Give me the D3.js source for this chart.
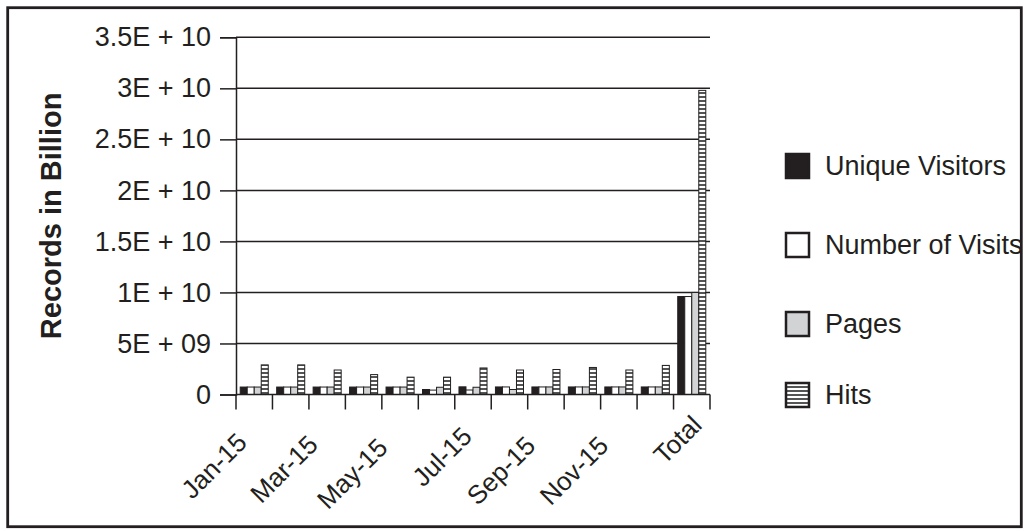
<!DOCTYPE html>
<html>
<head>
<meta charset="utf-8">
<script src="https://cdn.jsdelivr.net/npm/d3@7/dist/d3.min.js"></script>
<style>
  html, body { margin: 0; padding: 0; background: #fff; }
  svg { display: block; font-family: "Liberation Sans", Arial, sans-serif; }
</style>
</head>
<body>
<svg id="chart" width="1029" height="531"></svg>
<script>
// Monthly web-traffic records for 2015, plus the yearly total
const categories = ["Jan-15", "Feb-15", "Mar-15", "Apr-15", "May-15", "Jun-15",
                    "Jul-15", "Aug-15", "Sep-15", "Oct-15", "Nov-15", "Dec-15", "Total"];
const seriesNames = ["Unique Visitors", "Number of Visits", "Pages", "Hits"];
const uniqueVisitors = [7.3e8, 7.3e8, 7.3e8, 7.3e8, 7.3e8, 4.9e8, 7.5e8, 7.4e8, 7.4e8, 7.4e8, 7.4e8, 7.4e8, 9.6e9];
const numberOfVisits = [7.3e8, 7.3e8, 7.3e8, 7.3e8, 7.3e8, 4.3e8, 4.4e8, 7.4e8, 7.4e8, 7.4e8, 7.4e8, 7.4e8, 9.6e9];
const pages          = [7.3e8, 7.3e8, 7.3e8, 7.3e8, 7.3e8, 7.1e8, 7.1e8, 4.9e8, 7.4e8, 7.4e8, 7.4e8, 7.4e8, 1.0e10];
const hits           = [2.9e9, 2.9e9, 2.4e9, 1.95e9, 1.7e9, 1.7e9, 2.6e9, 2.4e9, 2.45e9, 2.65e9, 2.4e9, 2.85e9, 2.98e10];
const yTickValues = [0, 5e9, 1e10, 1.5e10, 2e10, 2.5e10, 3e10, 3.5e10];
const yTickLabels = ["0", "5E + 09", "1E + 10", "1.5E + 10", "2E + 10", "2.5E + 10", "3E + 10", "3.5E + 10"];
const yTitle = "Records in Billion";

const seriesValues = [uniqueVisitors, numberOfVisits, pages, hits];
const rows = categories.map((c, i) => ({
  category: c,
  values: seriesNames.map((s, k) => ({ series: s, value: seriesValues[k][i] }))
}));

const svg = d3.select("#chart");
const ink = "#231f20";

// Horizontal hatch fill for the Hits series
const defs = svg.append("defs");
const pat = defs.append("pattern")
  .attr("id", "hatch").attr("patternUnits", "userSpaceOnUse")
  .attr("width", 8).attr("height", 4);
pat.append("rect").attr("width", 8).attr("height", 4).attr("fill", "#fff");
pat.append("rect").attr("y", 0).attr("width", 8).attr("height", 2).attr("fill", "#555");

const fills = {
  "Unique Visitors": ink,
  "Number of Visits": "#ffffff",
  "Pages": "#d1d3d4",
  "Hits": "url(#hatch)"
};

const plot = { left: 236, right: 710, top: 37.3, bottom: 394.5 };

const x0 = d3.scaleBand().domain(categories).range([plot.left, plot.right]).padding(0);
const x1 = d3.scaleBand().domain(seriesNames).range([0, x0.bandwidth()])
  .paddingInner(0).paddingOuter(0.6);
const y = d3.scaleLinear().domain([0, 3.5e10]).range([plot.bottom, plot.top]);

// outer frame
svg.append("rect")
  .attr("x", 7.7).attr("y", 7.7).attr("width", 1013.6).attr("height", 519)
  .attr("fill", "none").attr("stroke", ink).attr("stroke-width", 2.8);

// gridlines
svg.append("g").selectAll("line")
  .data(yTickValues.filter(v => v > 0))
  .join("line")
  .attr("x1", plot.left).attr("x2", plot.right)
  .attr("y1", d => y(d)).attr("y2", d => y(d))
  .attr("stroke", ink).attr("stroke-width", 1.5);

// y axis
const yAxis = d3.axisLeft(y)
  .tickValues(yTickValues)
  .tickFormat((d, i) => yTickLabels[i])
  .tickSize(16).tickPadding(9);
const gy = svg.append("g").attr("transform", `translate(${plot.left},0)`).call(yAxis);
gy.select(".domain").attr("stroke", ink).attr("stroke-width", 1.5);
gy.selectAll(".tick line").attr("stroke", ink).attr("stroke-width", 1.5);
gy.selectAll(".tick text").attr("fill", ink).style("font-size", "27px")
  .style("font-family", "'Liberation Sans', Arial, sans-serif");

// bars
const groups = svg.append("g").selectAll("g")
  .data(rows).join("g")
  .attr("transform", d => `translate(${x0(d.category)},0)`);
groups.selectAll("rect")
  .data(d => d.values).join("rect")
  .attr("x", d => x1(d.series))
  .attr("y", d => y(d.value))
  .attr("width", x1.bandwidth())
  .attr("height", d => y(0) - y(d.value))
  .attr("fill", d => fills[d.series])
  .attr("stroke", ink).attr("stroke-width", 1);

// x axis with ticks at category boundaries
const boundaries = categories.map(c => x0(c)).concat([plot.right]);
const gx = svg.append("g");
gx.append("line")
  .attr("x1", plot.left).attr("x2", plot.right)
  .attr("y1", y(0)).attr("y2", y(0))
  .attr("stroke", ink).attr("stroke-width", 1.5);
gx.selectAll("line.tick").data(boundaries).join("line")
  .attr("class", "tick")
  .attr("x1", d => d).attr("x2", d => d)
  .attr("y1", y(0)).attr("y2", y(0) + 15)
  .attr("stroke", ink).attr("stroke-width", 1.5);

// rotated category labels (every other month + Total); longer labels sit
// further down-left along their own slant
const labelRef = 58;
const slant = Math.SQRT1_2;
const xl = gx.selectAll("text").data(categories.filter((c, i) => i % 2 === 0)).join("text")
  .attr("text-anchor", "end")
  .attr("dy", "0.35em")
  .attr("fill", ink)
  .style("font-size", "26px")
  .text(d => d);
xl.attr("transform", function (d) {
  const len = this.getComputedTextLength();
  const shift = len - labelRef;
  const ex = x0(d) + x0.bandwidth() / 2 + 3 - shift * slant;
  const ey = y(0) + 28 + shift * slant;
  return `translate(${ex},${ey}) rotate(-45)`;
});

// y title
svg.append("text")
  .attr("transform", `translate(61,${(plot.top + plot.bottom) / 2}) rotate(-90)`)
  .attr("text-anchor", "middle")
  .attr("fill", ink)
  .style("font-size", "29px").style("font-weight", "bold")
  .text(yTitle);

// legend
const legend = svg.append("g").attr("transform", "translate(785,153)");
const leg = legend.selectAll("g").data(seriesNames).join("g")
  .attr("transform", (d, i) => `translate(0,${[0, 79, 158, 229][i]})`);
leg.append("rect")
  .attr("x", 1).attr("y", 1).attr("width", 23).attr("height", 24)
  .attr("fill", d => fills[d]).attr("stroke", ink).attr("stroke-width", 2.5);
leg.append("text")
  .attr("x", 40).attr("y", 13).attr("dy", "0.35em")
  .attr("fill", ink).style("font-size", "27px")
  .text(d => d);
</script>
</body>
</html>
